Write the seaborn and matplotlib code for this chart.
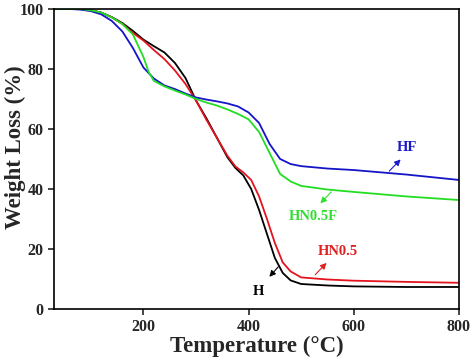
import pandas as pd
import numpy as np
import matplotlib.pyplot as plt
import seaborn as sns

# TGA curves (temperature in C, weight in %)
h_temp = [30, 80, 100, 120, 140, 160, 180, 200, 220, 240, 260, 280, 300, 320, 340, 360, 375, 390, 405, 420, 435, 450, 465, 480, 500, 550, 600, 700, 800]
h_wt = [100, 100, 99.6, 98.8, 97.3, 95.3, 92.7, 89.8, 87.6, 85.5, 82, 77, 69.5, 63.5, 57, 50.5, 47, 44.5, 40, 33, 25, 17, 12, 9.5, 8.3, 7.8, 7.5, 7.3, 7.3]

hn05_temp = [30, 80, 100, 120, 140, 160, 180, 200, 220, 240, 260, 280, 300, 320, 340, 360, 375, 390, 405, 420, 435, 450, 465, 480, 500, 550, 600, 700, 800]
hn05_wt = [100, 100, 99.6, 98.8, 97.2, 95, 92, 89.5, 86.3, 83.3, 79.5, 75, 69.5, 63, 57, 51, 47.5, 45.5, 43, 37.5, 30, 22, 15.5, 12.5, 10.5, 9.8, 9.4, 9, 8.7]

hf_temp = [30, 60, 80, 100, 120, 140, 160, 180, 200, 220, 240, 260, 280, 300, 320, 340, 360, 380, 400, 420, 440, 460, 480, 500, 550, 600, 700, 800]
hf_wt = [100, 100, 99.8, 99.3, 98.2, 96, 92.5, 87, 80.5, 76.8, 74.5, 73.3, 71.8, 70.5, 69.8, 69.2, 68.5, 67.5, 65.5, 62, 55, 50, 48.3, 47.6, 46.8, 46.3, 44.8, 43]

hn05f_temp = [30, 80, 100, 120, 140, 160, 180, 200, 210, 220, 240, 260, 280, 300, 320, 340, 360, 380, 400, 420, 440, 460, 480, 500, 550, 600, 700, 800]
hn05f_wt = [100, 100, 99.6, 98.8, 97.2, 95, 91.5, 84, 79, 76, 74.2, 72.8, 71.5, 70, 68.8, 67.8, 66.5, 65, 63.2, 59, 52, 45, 42.5, 41, 39.8, 39, 37.5, 36.3]

names = ['H', 'HN0.5', 'HF', 'HN0.5F']
colors = ['#000000', '#e3141e', '#1414c8', '#22dd22']
label_colors = ['#000000', '#e02020', '#1a1acc', '#33dd33']

frames = []
for n, t, w in zip(names, [h_temp, hn05_temp, hf_temp, hn05f_temp], [h_wt, hn05_wt, hf_wt, hn05f_wt]):
    frames.append(pd.DataFrame({'temp': t, 'wt': w, 'sample': n}))
df = pd.concat(frames, ignore_index=True)

sns.set_style('ticks')
plt.rcParams['font.family'] = ['Liberation Serif', 'DejaVu Serif']
plt.rcParams['font.weight'] = 'bold'

fig = plt.figure(figsize=(4.74, 3.6), dpi=100)
ax = fig.add_axes([0.114, 0.142, 0.854, 0.833])

sns.lineplot(data=df, x='temp', y='wt', hue='sample', hue_order=names,
             palette=dict(zip(names, colors)), linewidth=1.3, legend=False, ax=ax, sort=False)

ax.set_xlim(30, 800)
ax.set_ylim(0, 100)
ax.set_xticks([200, 400, 600, 800])
ax.set_yticks([0, 20, 40, 60, 80, 100])
ax.tick_params(direction='out', length=4, width=1.2, labelsize=11.5)
for lab in ax.get_xticklabels() + ax.get_yticklabels():
    lab.set_fontweight('bold')
for s in ax.spines.values():
    s.set_visible(True)
    s.set_linewidth(1.2)
    s.set_color('black')

ax.set_xlabel('Temperature (°C)', fontsize=16.5, fontweight='bold')
ax.set_ylabel('Weight Loss (%)', fontsize=16.5, fontweight='bold')
ax.xaxis.set_label_coords(0.5, -0.09)
ax.yaxis.set_label_coords(-0.07, 0.54)

# labels with arrows: (text pos, arrow tail, arrow head)
annots = [
    ('HF', (702, 53.7), (664, 45.3), (693, 50.5)),
    ('HN0.5F', (523, 30.7), (561, 39.7), (533, 34.5)),
    ('HN0.5', (569, 19), (523, 10.7), (552, 16)),
    ('H', (419, 5.7), (460, 14.7), (436, 10)),
]
lc = dict(zip(names, label_colors))
for name, tpos, tail, head in annots:
    c = lc[name]
    ax.annotate('', xy=head, xytext=tail,
                arrowprops=dict(arrowstyle='-|>', color=c, lw=0.8, mutation_scale=9))
    ax.text(tpos[0], tpos[1], name, color=c, fontsize=10.5, fontweight='bold',
            ha='center', va='center')

fig.savefig('out.png', dpi=100)
